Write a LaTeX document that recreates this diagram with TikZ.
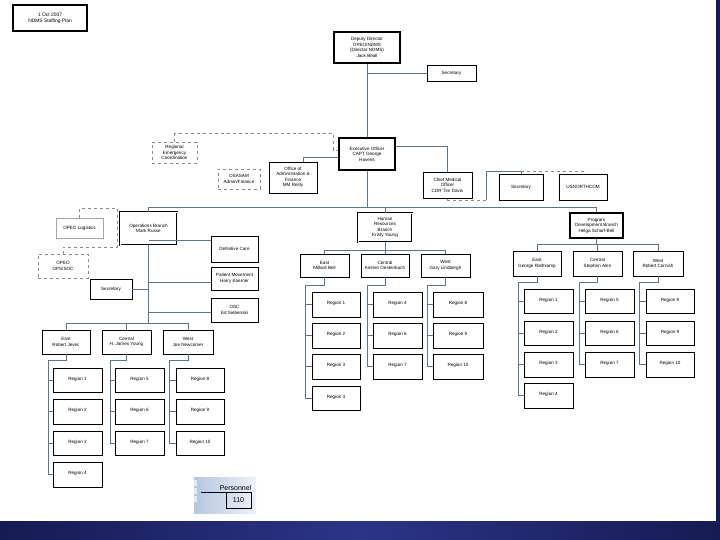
\documentclass[tikz,border=0pt]{standalone}
\usepackage{fontspec}
\setmainfont{Liberation Sans}
\definecolor{connc}{HTML}{56788F}
\definecolor{navyA}{HTML}{151B52}
\definecolor{navyB}{HTML}{2C3488}
\definecolor{dashgray}{HTML}{8A8A8A}
\definecolor{persA}{HTML}{B4C6E0}
\definecolor{persB}{HTML}{EEF2F8}
\tikzset{
 box/.style={draw=black, line width=0.75pt, fill=white, inner sep=0pt, align=center, font=\fontsize{4.6}{5.5}\selectfont},
 thickbox/.style={box, line width=1.7pt},
 dblbox/.style={box, double, double distance=0.9pt, line width=0.7pt},
 dbox/.style={box, draw=dashgray, dashed, line width=0.6pt},
 lbox/.style={box, draw=gray!70, line width=0.7pt},
 wire/.style={draw=connc, line width=0.8pt},
 dwire/.style={draw=dashgray, dashed, line width=0.7pt},
}
\newcommand\mybox[7]{\node[#1, minimum width={(#5-#3)*1pt}, minimum height={(#6-#4)*1pt}] (#2) at ({(#3+#5)/2},{(#4+#6)/2}) {#7};}
\newcommand\rgn[1]{\raisebox{2.5pt}{Region #1}}
\begin{document}
\begin{tikzpicture}[x=1pt,y=-1pt]
\useasboundingbox (0,0) rectangle (720,540);
% bottom band
\shade[left color=navyA, right color=navyA, middle color=navyB] (0,521) rectangle (720,540);
\fill[navyA] (716,0) rectangle (720,521);

% title
\mybox{box, line width=1.4pt, font=\fontsize{4.9}{5.9}\selectfont}{title}{13}{5}{87}{31}{1 Oct 2007\\NDMS Staffing Plan}

% top level
\mybox{thickbox}{dep}{334}{32}{400}{63}{Deputy Director\\OPEO/NDMS\\(Director NDMS)\\Jack Beall}
\mybox{box}{sec1}{427}{65}{476}{81}{Secretary}
\mybox{thickbox}{exec}{339}{138}{395}{170}{Executive Officer\\CAPT George\\Havens}
\mybox{dbox}{rec}{152}{142}{197}{163}{Regional\\Emergency\\Coordination}
\mybox{dbox}{osasam}{218}{169}{260}{189}{OSASAM\\Admin/Finance}
\mybox{box}{office}{269}{162}{317}{193}{Office of\\Administration \&\\Finance\\MM Reilly}
\mybox{box}{cmo}{423}{172}{472}{198}{Chief Medical\\Officer\\CDR Tim Davis}
\mybox{box}{sec2}{499}{174}{543}{200}{Secretary}
\mybox{box}{usn}{559}{174}{607}{200}{USNORTHCOM}

\draw[wire] (dep.south) -- (exec.north);
\draw[wire] (dep.south |- sec1.west) -- (sec1.west);
\draw[dwire] (rec.north) -- ++(0,-8) -| (333,150) -- (exec.west |- 0,150);
\draw[wire] (office.north -| 303,0) -- (303,157) -- (exec.west |- 0,157);
\draw[wire] (exec.east |- 0,146) -| (cmo.north);
\coordinate (rg) at (486,200);
\draw[wire] (rg) -- (486,171) -| (sec2.north);
\draw[dwire] (sec2.north |- 0,171) -| (usn.north);
\draw[dwire] (rg) -| (cmo.south);

% branches
\mybox{dblbox}{ops}{120}{212}{177}{245}{Operations Branch\\Mark Russe}
\mybox{dblbox}{hr}{358}{213}{412}{242}{Human\\Resources\\Branch\\Kristy Young}
\mybox{thickbox}{pd}{570}{213}{623}{238}{Program\\Development Branch\\Helga Scharf-Bell}

\draw[wire] (exec.south) -- (exec.south |- 0,207);
\draw[wire] (ops.north) -- (ops.north |- 0,207) -- (pd.north |- 0,207) -- (pd.north);
\draw[wire] (hr.north) -- (hr.north |- 0,207);

% operations side
\mybox{lbox}{ologi}{56}{218}{103}{238}{OPEO Logistics}
\mybox{dbox}{opsoc}{38}{254}{88}{278}{OPEO\\OPS/SOC}
\draw[dwire] (ologi.north) -- (ologi.north |- 0,208) -- (117,208) -- (117,247) -| (opsoc.north);
\mybox{box}{dc}{211}{236}{258}{262}{Definitive Care}
\mybox{box}{pm}{211}{267}{258}{290}{Patient Movement\\Harry Koerner}
\mybox{box}{osc}{211}{298}{258}{322}{OSC\\Ed Siebenski}
\mybox{box}{sec3}{90}{279}{132}{299}{Secretary}
\draw[wire] (ops.south) -- (ops.south |- 0,323);
\draw[wire] (ops.south |- 0,240) -- (dc.west |- 0,240);
\draw[wire] (ops.south |- 0,282) -- (pm.west |- 0,282);
\draw[wire] (ops.south |- 0,312) -- (osc.west |- 0,312);
\draw[wire] (sec3.east) -- (sec3.east -| ops.south);

\mybox{box}{oe}{42}{330}{90}{354}{East\\Robert Jevec}
\mybox{box}{oc}{102}{330}{151}{354}{Central\\H. James Young}
\mybox{box}{ow}{163}{330}{213}{354}{West\\Joe Newcomer}
\draw[wire] (oe.north) -- (oe.north |- 0,323) -- (ow.north |- 0,323) -- (ow.north);
\draw[wire] (oc.north) -- (oc.north |- 0,323);

\mybox{box}{or1}{53}{368}{102}{392}{\rgn{1}}
\mybox{box}{or2}{53}{399}{102}{424}{\rgn{2}}
\mybox{box}{or3}{53}{431}{102}{455}{\rgn{3}}
\mybox{box}{or4}{53}{462}{102}{487}{\rgn{4}}
\mybox{box}{or5}{115}{368}{164}{392}{\rgn{5}}
\mybox{box}{or6}{115}{399}{164}{424}{\rgn{6}}
\mybox{box}{or7}{115}{431}{164}{455}{\rgn{7}}
\mybox{box}{or8}{176}{368}{224}{392}{\rgn{8}}
\mybox{box}{or9}{176}{399}{224}{424}{\rgn{9}}
\mybox{box}{or10}{176}{431}{224}{455}{\rgn{10}}
\draw[wire] (oe.south) -- ++(0,6) -| (or4.west -| 48,0) -- (or4.west);
\foreach \r in {or1,or2,or3} \draw[wire] (\r.west -| 48,0) -- (\r.west);
\draw[wire] (oc.south) -- ++(0,6) -| (or7.west -| 110,0) -- (or7.west);
\foreach \r in {or5,or6} \draw[wire] (\r.west -| 110,0) -- (\r.west);
\draw[wire] (ow.south) -- ++(0,6) -| (or10.west -| 169,0) -- (or10.west);
\foreach \r in {or8,or9} \draw[wire] (\r.west -| 169,0) -- (\r.west);

% human resources
\mybox{box}{he}{300}{254}{349}{277}{East\\Millard Bell}
\mybox{box}{hc}{361}{254}{409}{277}{Central\\Kirsten Oestenbuch}
\mybox{box}{hw}{421}{254}{470}{277}{West\\Gary Lindbergh}
\draw[wire] (hr.south) -- (hr.south |- 0,250);
\draw[wire] (he.north) -- (he.north |- 0,250) -- (hw.north |- 0,250) -- (hw.north);
\draw[wire] (hc.north) -- (hc.north |- 0,250);

\mybox{box}{hr1}{312}{292}{360}{317}{\rgn{1}}
\mybox{box}{hr2}{312}{323}{360}{348}{\rgn{2}}
\mybox{box}{hr3}{312}{354}{360}{379}{\rgn{3}}
\mybox{box}{hr4}{312}{386}{360}{410}{\rgn{4}}
\mybox{box}{hr5}{373}{292}{422}{317}{\rgn{4}}
\mybox{box}{hr6}{373}{323}{422}{348}{\rgn{6}}
\mybox{box}{hr7}{373}{354}{422}{379}{\rgn{7}}
\mybox{box}{hr8}{433}{292}{483}{317}{\rgn{8}}
\mybox{box}{hr9}{433}{323}{483}{348}{\rgn{9}}
\mybox{box}{hr10}{433}{354}{483}{379}{\rgn{10}}
\draw[wire] (he.south) -- ++(0,8) -| (hr4.west -| 305,0) -- (hr4.west);
\foreach \r in {hr1,hr2,hr3} \draw[wire] (\r.west -| 305,0) -- (\r.west);
\draw[wire] (hc.south) -- ++(0,8) -| (hr7.west -| 367,0) -- (hr7.west);
\foreach \r in {hr5,hr6} \draw[wire] (\r.west -| 367,0) -- (\r.west);
\draw[wire] (hw.south) -- ++(0,8) -| (hr10.west -| 427,0) -- (hr10.west);
\foreach \r in {hr8,hr9} \draw[wire] (\r.west -| 427,0) -- (\r.west);

% program development
\mybox{box}{pe}{513}{251}{561}{276}{East\\George Rathkamp}
\mybox{box}{pc}{573}{251}{622}{276}{Central\\Stephen Alen}
\mybox{box}{pw}{633}{251}{683}{276}{West\\Robert Cornish}
\draw[wire] (pd.south) -- (pd.south |- 0,244);
\draw[wire] (pe.north) -- (pe.north |- 0,244) -- (pw.north |- 0,244) -- (pw.north);
\draw[wire] (pc.north) -- (pc.north |- 0,244);

\mybox{box}{pr1}{524}{289}{573}{313}{\rgn{1}}
\mybox{box}{pr2}{524}{321}{573}{345}{\rgn{2}}
\mybox{box}{pr3}{524}{352}{573}{377}{\rgn{3}}
\mybox{box}{pr4}{524}{383}{573}{408}{\rgn{4}}
\mybox{box}{pr5}{585}{289}{634}{313}{\rgn{5}}
\mybox{box}{pr6}{585}{321}{634}{345}{\rgn{6}}
\mybox{box}{pr7}{585}{352}{634}{377}{\rgn{7}}
\mybox{box}{pr8}{646}{289}{694}{313}{\rgn{8}}
\mybox{box}{pr9}{646}{321}{694}{345}{\rgn{9}}
\mybox{box}{pr10}{646}{352}{694}{377}{\rgn{10}}
\draw[wire] (pe.south) -- ++(0,6) -| (pr4.west -| 518,0) -- (pr4.west);
\foreach \r in {pr1,pr2,pr3} \draw[wire] (\r.west -| 518,0) -- (\r.west);
\draw[wire] (pc.south) -- ++(0,6) -| (pr7.west -| 579,0) -- (pr7.west);
\foreach \r in {pr5,pr6} \draw[wire] (\r.west -| 579,0) -- (\r.west);
\draw[wire] (pw.south) -- ++(0,6) -| (pr10.west -| 639,0) -- (pr10.west);
\foreach \r in {pr8,pr9} \draw[wire] (\r.west -| 639,0) -- (\r.west);

% personnel widget
\shade[left color=persA, right color=persB] (194,477) rectangle (256,513);
\foreach \yy in {480,488,496} \fill[white!65!persA] (194,\yy) rectangle (197,\yy+6);
\node[anchor=south east, inner sep=0.5pt, font=\fontsize{7}{8}\selectfont] (pers) at (252,491) {Personnel};
\draw[black, line width=0.6pt] (201,492) -- (252,492);
\node[draw=black, line width=0.6pt, minimum width=25pt, minimum height=16pt, inner sep=0pt, font=\fontsize{7}{8}\selectfont] (n110) at (238.5,500) {110};
\end{tikzpicture}
\end{document}
